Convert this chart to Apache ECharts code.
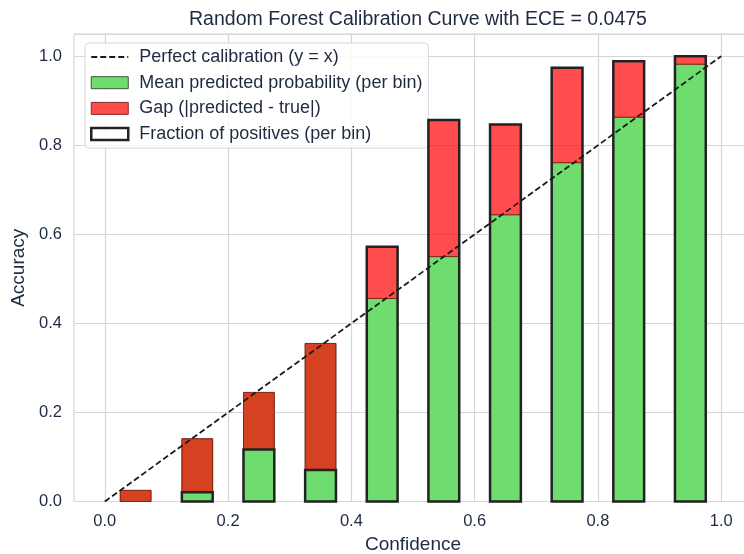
<!DOCTYPE html>
<html><head><meta charset="utf-8">
<script src="https://cdn.jsdelivr.net/npm/echarts@6/dist/echarts.min.js"></script>
<style>html,body{margin:0;padding:0;background:#fff;overflow:hidden}#c{width:744px;height:554px}</style>
</head><body><div id="c"></div>
<script>
var binCenters = [0.05, 0.15, 0.25, 0.35, 0.45, 0.55, 0.65, 0.75, 0.85, 0.95];
var meanPredicted = [0.025, 0.141, 0.245, 0.355, 0.456, 0.550, 0.644, 0.761, 0.863, 0.982];
var fractionPositives = [0.0, 0.021, 0.117, 0.071, 0.572, 0.857, 0.847, 0.974, 0.989, 1.0];
var diagonal = [[0, 0], [1, 1]];
var tickValues = [0, 0.2, 0.4, 0.6, 0.8, 1.0];
var titleText = 'Random Forest Calibration Curve with ECE = 0.0475';

var BAR_W = 0.05;
var FONT = '"Liberation Sans", Arial, sans-serif';
var TXT = '#1e2a40';

var greenData = binCenters.map(function (x, i) { return [x, 0, meanPredicted[i]]; });
var gapData = binCenters.map(function (x, i) {
  return [x, Math.min(meanPredicted[i], fractionPositives[i]), Math.max(meanPredicted[i], fractionPositives[i])];
});
var outlineData = binCenters.map(function (x, i) { return [x, 0, fractionPositives[i]]; });

function makeRender(style) {
  return function (params, api) {
    var x = api.value(0), y0 = api.value(1), y1 = api.value(2);
    if (y1 - y0 <= 0) return null;
    var p0 = api.coord([x - BAR_W / 2, y1]);
    var p1 = api.coord([x + BAR_W / 2, y0]);
    return {
      type: 'rect',
      shape: { x: p0[0], y: p0[1], width: p1[0] - p0[0], height: p1[1] - p0[1] },
      style: style
    };
  };
}

var chart = echarts.init(document.getElementById('c'), null, { renderer: 'canvas' });
chart.setOption({
  animation: false,
  backgroundColor: '#fff',
  textStyle: { fontFamily: FONT },
  title: {
    text: titleText, left: 413, textAlign: 'center', top: 5,
    textStyle: { fontFamily: FONT, fontSize: 19.5, fontWeight: 'normal', color: TXT }
  },
  grid: { left: 74, right: -8, top: 34, bottom: 52.5, containLabel: false, outerBoundsMode: 'none',
    show: true, borderColor: '#d6d6d6', borderWidth: 1.2 },
  xAxis: {
    type: 'value', min: -0.05, max: 1.05,
    name: 'Confidence', nameLocation: 'middle', nameGap: 34,
    nameTextStyle: { fontFamily: FONT, fontSize: 19, color: TXT },
    axisLine: { show: false },
    axisTick: { show: false, customValues: tickValues },
    axisLabel: { customValues: tickValues, fontFamily: FONT, fontSize: 16.5, color: TXT, margin: 11,
      formatter: function (v) { return v.toFixed(1); } },
    splitLine: { show: true, lineStyle: { color: '#d6d6d6', width: 1.2 } }
  },
  yAxis: {
    type: 'value', min: 0, max: 1.05, interval: 0.2,
    name: 'Accuracy', nameLocation: 'middle', nameGap: 37, nameRotate: 90,
    nameTextStyle: { fontFamily: FONT, fontSize: 19, color: TXT },
    axisLine: { show: false },
    axisTick: { show: false },
    axisLabel: { fontFamily: FONT, fontSize: 16.5, color: TXT, margin: 12, showMaxLabel: false,
      formatter: function (v) { return v > 1.01 ? '' : v.toFixed(1); } },
    splitLine: { show: true, lineStyle: { color: '#d6d6d6', width: 1.2 } }
  },
  legend: {
    left: 85, top: 43, orient: 'vertical',
    padding: [5, 6, 5, 5],
    itemWidth: 37, itemHeight: 12, itemGap: 7.7,
    backgroundColor: 'rgba(255,255,255,0.85)', borderColor: '#d8d8d8', borderWidth: 1, borderRadius: 4,
    textStyle: { fontFamily: FONT, fontSize: 18, color: TXT, lineHeight: 18, padding: [0, 0, 0, 6] },
    data: [
      { name: 'Perfect calibration (y = x)', itemStyle: { opacity: 0 } },
      { name: 'Mean predicted probability (per bin)', icon: 'rect',
        itemStyle: { color: '#6fdc6f', borderColor: '#3a5a3a', borderWidth: 1 } },
      { name: 'Gap (|predicted - true|)', icon: 'rect',
        itemStyle: { color: '#ff4c4c', borderColor: '#8a2a2a', borderWidth: 1 } },
      { name: 'Fraction of positives (per bin)', icon: 'rect',
        itemStyle: { color: 'rgba(255,255,255,0)', borderColor: '#222', borderWidth: 2.5 } }
    ]
  },
  series: [
    {
      name: 'Mean predicted probability (per bin)', type: 'custom', z: 2,
      itemStyle: { color: '#6fdc6f' },
      encode: { x: 0, y: [1, 2] },
      renderItem: makeRender({ fill: '#6fdc6f', stroke: 'rgba(40,60,40,0.55)', lineWidth: 1 }),
      data: greenData
    },
    {
      name: 'Gap (|predicted - true|)', type: 'custom', z: 3,
      itemStyle: { color: '#ff4c4c' },
      encode: { x: 0, y: [1, 2] },
      renderItem: makeRender({ fill: 'rgba(255,0,0,0.7)', stroke: 'rgba(120,20,10,0.75)', lineWidth: 1 }),
      data: gapData
    },
    {
      name: 'Fraction of positives (per bin)', type: 'custom', z: 4,
      itemStyle: { color: '#222' },
      encode: { x: 0, y: [1, 2] },
      renderItem: makeRender({ fill: 'rgba(0,0,0,0)', stroke: '#222', lineWidth: 2.5 }),
      data: outlineData
    },
    {
      name: 'Perfect calibration (y = x)', type: 'line', z: 5,
      symbol: 'none', silent: true,
      itemStyle: { color: '#1a1a1a' },
      lineStyle: { color: '#1a1a1a', width: 1.8, type: [6, 3] },
      data: diagonal
    }
  ]
});
</script></body></html>
